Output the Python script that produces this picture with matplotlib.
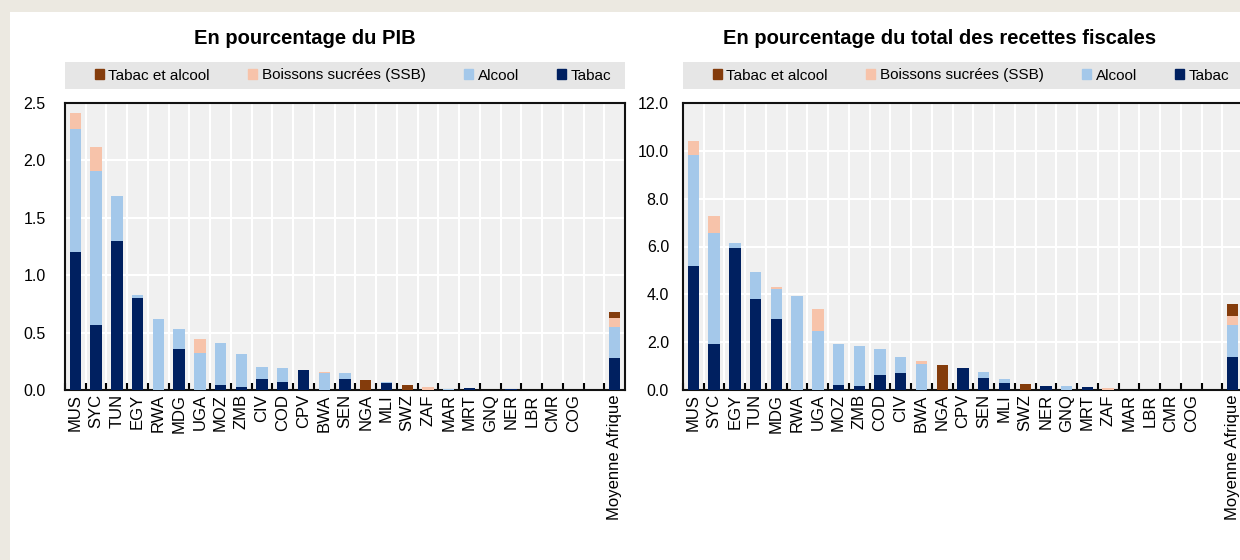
import numpy as np
import matplotlib
matplotlib.use("Agg")
import matplotlib.pyplot as plt
from matplotlib.patches import Rectangle, Patch

# --- data: en % du PIB ---
pib_countries = ["MUS", "SYC", "TUN", "EGY", "RWA", "MDG", "UGA", "MOZ", "ZMB", "CIV",
                 "COD", "CPV", "BWA", "SEN", "NGA", "MLI", "SWZ", "ZAF", "MAR", "MRT",
                 "GNQ", "NER", "LBR", "CMR", "COG", "Moyenne Afrique"]
pib_tabac = [1.20, 0.57, 1.30, 0.80, 0.00, 0.36, 0.00, 0.04, 0.03, 0.10,
             0.07, 0.175, 0.00, 0.10, 0.00, 0.06, 0.00, 0.00, 0.00, 0.02,
             0.00, 0.005, 0.00, 0.00, 0.00, 0.28]
pib_alcool = [1.07, 1.34, 0.39, 0.03, 0.62, 0.17, 0.32, 0.37, 0.28, 0.10,
              0.12, 0.00, 0.15, 0.05, 0.00, 0.01, 0.00, 0.00, 0.005, 0.00,
              0.003, 0.00, 0.00, 0.00, 0.00, 0.27]
pib_ssb = [0.14, 0.21, 0.00, 0.00, 0.00, 0.00, 0.12, 0.00, 0.00, 0.00,
           0.00, 0.00, 0.01, 0.00, 0.00, 0.00, 0.00, 0.03, 0.00, 0.00,
           0.00, 0.00, 0.00, 0.00, 0.00, 0.08]
pib_tab_alc = [0.00, 0.00, 0.00, 0.00, 0.00, 0.00, 0.00, 0.00, 0.00, 0.00,
               0.00, 0.00, 0.00, 0.00, 0.09, 0.00, 0.045, 0.00, 0.00, 0.00,
               0.00, 0.00, 0.00, 0.00, 0.00, 0.05]

# --- data: en % du total des recettes fiscales ---
rf_countries = ["MUS", "SYC", "EGY", "TUN", "MDG", "RWA", "UGA", "MOZ", "ZMB", "COD",
                "CIV", "BWA", "NGA", "CPV", "SEN", "MLI", "SWZ", "NER", "GNQ", "MRT",
                "ZAF", "MAR", "LBR", "CMR", "COG", "Moyenne Afrique"]
rf_tabac = [5.17, 1.93, 5.93, 3.80, 2.96, 0.00, 0.00, 0.21, 0.17, 0.62,
            0.73, 0.00, 0.00, 0.94, 0.52, 0.31, 0.00, 0.17, 0.00, 0.13,
            0.00, 0.00, 0.00, 0.00, 0.00, 1.37]
rf_alcool = [4.65, 4.62, 0.20, 1.13, 1.27, 3.94, 2.46, 1.72, 1.69, 1.10,
             0.66, 1.08, 0.00, 0.00, 0.24, 0.13, 0.00, 0.00, 0.15, 0.00,
             0.00, 0.00, 0.00, 0.00, 0.00, 1.36]
rf_ssb = [0.59, 0.73, 0.00, 0.00, 0.09, 0.00, 0.92, 0.00, 0.00, 0.00,
          0.00, 0.15, 0.00, 0.00, 0.00, 0.00, 0.00, 0.00, 0.00, 0.00,
          0.08, 0.00, 0.00, 0.00, 0.00, 0.35]
rf_tab_alc = [0.00, 0.00, 0.00, 0.00, 0.00, 0.00, 0.00, 0.00, 0.00, 0.00,
              0.00, 0.00, 1.06, 0.00, 0.00, 0.00, 0.27, 0.00, 0.00, 0.00,
              0.00, 0.00, 0.00, 0.00, 0.00, 0.51]

C_TABAC = "#002060"
C_ALCOOL = "#a4c8ea"
C_SSB = "#f7c3aa"
C_TABALC = "#843c0c"

plt.rcParams["font.family"] = "Liberation Sans"

W, H = 1240, 560
fig = plt.figure(figsize=(W / 100, H / 100), dpi=100, facecolor="#ece9e1")
fig.patches.append(Rectangle((10 / W, 0), 1, 1 - 12 / H, transform=fig.transFigure,
                             facecolor="white", edgecolor="none", zorder=-10))


def px(x, y, w, h):
    return [x / W, 1 - (y + h) / H, w / W, h / H]


def panel(x0, countries, tabac, alcool, ssb, tab_alc, ymax, step, title, title_x):
    ax = fig.add_axes(px(x0, 103, 560, 287))
    n = len(countries)
    pos = np.append(np.arange(n - 1), n)  # gap before the average
    tabac = np.array(tabac)
    alcool = np.array(alcool)
    ssb = np.array(ssb)
    tab_alc = np.array(tab_alc)
    bw = 0.55
    ax.bar(pos, tabac, bw, color=C_TABAC, zorder=3)
    ax.bar(pos, alcool, bw, bottom=tabac, color=C_ALCOOL, zorder=3)
    ax.bar(pos, ssb, bw, bottom=tabac + alcool, color=C_SSB, zorder=3)
    ax.bar(pos, tab_alc, bw, bottom=tabac + alcool + ssb, color=C_TABALC, zorder=3)

    ax.set_facecolor("#f0f0f0")
    ax.set_xlim(-0.5, n + 0.5)
    ax.set_ylim(0, ymax)
    ax.set_yticks(np.arange(0, ymax + step / 2, step))
    ax.yaxis.set_major_formatter(matplotlib.ticker.FormatStrFormatter("%.1f"))
    ax.set_xticks(pos)
    ax.set_xticklabels(countries, rotation=90, fontsize=12)
    ax.tick_params(axis="x", which="major", length=0, pad=3)
    ax.tick_params(axis="y", length=0, pad=14 if ymax < 5 else 10, labelsize=11.5)
    ax.set_xticks(np.arange(n + 1) - 0.5, minor=True)
    ax.tick_params(axis="x", which="minor", direction="in", length=5, width=1.5, color="black")
    ax.grid(True, axis="y", color="white", lw=1.5, zorder=0)
    ax.grid(True, axis="x", which="minor", color="white", lw=1.5, zorder=0)
    for s in ax.spines.values():
        s.set_linewidth(1.5)
        s.set_color("#111111")

    # legend band
    fig.patches.append(Rectangle((x0 / W, 1 - 89 / H), 560 / W, 27 / H,
                                 transform=fig.transFigure, facecolor="#e6e6e6",
                                 edgecolor="none", zorder=-5))
    handles = [Patch(color=C_TABALC, label="Tabac et alcool"),
               Patch(color=C_SSB, label="Boissons sucrées (SSB)"),
               Patch(color=C_ALCOOL, label="Alcool"),
               Patch(color=C_TABAC, label="Tabac")]
    fig.legend(handles=handles, loc="center", ncol=4, frameon=False,
               bbox_to_anchor=((x0 + 288) / W, 1 - 75.5 / H),
               handlelength=0.6, handleheight=0.6, handletextpad=0.3,
               columnspacing=2.5, prop={"size": 11})
    fig.text(title_x / W, 1 - 38 / H, title, ha="center", va="center",
             fontsize=14.5, fontweight="bold")
    return ax


panel(65, pib_countries, pib_tabac, pib_alcool, pib_ssb, pib_tab_alc, 2.5, 0.5,
      "En pourcentage du PIB", 305)
panel(683, rf_countries, rf_tabac, rf_alcool, rf_ssb, rf_tab_alc, 12.0, 2.0,
      "En pourcentage du total des recettes fiscales", 940)

fig.savefig("out.png", dpi=100, facecolor=fig.get_facecolor())
